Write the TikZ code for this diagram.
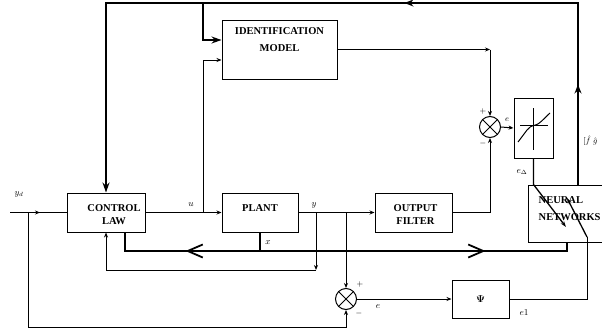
\documentclass[tikz,border=0pt]{standalone}
\usepackage{amsmath}
\usepackage{fontspec}
\setmainfont{Liberation Serif}
\usetikzlibrary{arrows.meta, positioning, calc, decorations.markings}

\begin{document}
\begin{tikzpicture}[x=1pt, y=-1pt,
		line/.style={line width=1pt},
		sig/.style={line, -{Stealth[length=5pt, width=4pt]}},
		bigSig/.style={line width=1.3pt, -{Stealth[length=10pt, width=7pt]}},
		bus/.style={line width=2.4pt},
		adjArrow/.style={line width=1.3pt, -{Stealth[length=6pt, width=4pt]}},
		midArrow/.style={postaction={decorate, decoration={markings, mark=at position #1 with {\arrow{Stealth[length=5pt, width=4pt]}}}}},
		bigMidArrow/.style={postaction={decorate, decoration={markings, mark=at position #1 with {\arrow{Stealth[length=9pt, width=7pt]}}}}},
		busArrow/.style={postaction={decorate, decoration={markings, mark=at position #1 with {\arrow{Straight Barb[length=15pt, width=13pt, line width=1.8pt]}}}}},
		busArrowBack/.style={postaction={decorate, decoration={markings, mark=at position #1 with {\arrowreversed{Straight Barb[length=15pt, width=13pt, line width=1.8pt]}}}}},
		block/.style={draw, line width=1pt, inner sep=0pt},
		blockText/.style={font=\fontsize{10.5}{13}\selectfont\bfseries, align=center, anchor=north, inner sep=0pt},
		sumNode/.style={draw, line width=1pt, circle, minimum size=21pt, inner sep=0pt,
			path picture={\draw[line width=1pt] (path picture bounding box.north west) -- (path picture bounding box.south east)
				(path picture bounding box.north east) -- (path picture bounding box.south west);}},
		lbl/.style={font=\small, inner sep=1pt},
		sign/.style={font=\footnotesize, inner sep=0pt}]

		\useasboundingbox (0,0) rectangle (602,332);
		\clip (0,0) rectangle (602,332);

		% blocks
		\node[block, minimum width=115pt, minimum height=59pt] (idModel) at (279.5,49.5) {};
		\node[blockText, font=\fontsize{10.5}{17}\selectfont\bfseries] (idText) at ($(idModel.north)+(0,8)$) {IDENTIFICATION\\MODEL};
		\node[block, minimum width=78pt, minimum height=39pt] (ctrlLaw) at (106,212.5) {};
		\node[blockText] (ctrlText) at ($(ctrlLaw.north)+(8,12)$) {CONTROL\\LAW};
		\node[block, minimum width=76pt, minimum height=39pt] (plant) at (260,212.5) {};
		\node[blockText] (plantText) at ($(plant.north)+(0,12)$) {PLANT};
		\node[block, minimum width=77pt, minimum height=39pt] (outFilter) at (413.5,212.5) {};
		\node[blockText] (filterText) at ($(outFilter.north)+(2,12)$) {OUTPUT\\FILTER};
		\node[block, minimum width=57pt, minimum height=38pt] (psi) at (480.5,299) {$\boldsymbol{\Psi}$};
		\node[block, minimum width=39pt, minimum height=60pt] (sat) at (533.5,128) {};
		\node[block, minimum width=90pt, minimum height=57pt] (nn) at (573,213.5) {};
		\node[blockText, anchor=north west, align=left, font=\fontsize{10.5}{17}\selectfont\bfseries] (nnText) at ($(nn.north west)+(11,12)$) {NEURAL\\NETWORKS};
		\node[sumNode] (sum1) at (490,127) {};
		\node[sumNode] (sum2) at (346,299) {};

		% saturation symbol
		\begin{scope}[shift={(sat.center)}]
			\draw[line] (0,-20) -- (0,22);
			\draw[line] (-13.5,-3) -- (14.5,-3);
			\draw[line] (-15.5,14) -- (-6.5,2) .. controls (-4.5,-1) and (-2,-2) .. (2,-3) .. controls (6,-4) and (9,-8) .. (16.5,-15);
		\end{scope}

		% junctions
		\coordinate (yIn) at (10,212.5);
		\coordinate (ydSplit) at (28,212.5);
		\coordinate (fbLow) at (346,327);
		\coordinate (uSplit) at (203,212.5);
		\coordinate (yTap) at (316,212.5);
		\coordinate (yLow) at (316,270);
		\coordinate (eTap) at (346,212.5);
		\coordinate (idCorner) at (sum1 |- idModel.east);
		\coordinate (topRight) at (578,3);
		\coordinate (topLeft) at (106,3);
		\coordinate (topSplit) at (203,3);
		\coordinate (nnTap) at (topRight |- nn.north);
		\coordinate (busStart) at ([xshift=19pt]ctrlLaw.south);
		\coordinate (busRight) at (567,251);
		\coordinate (nnBus) at (busRight |- nn.south);
		\coordinate (psiTurn) at (587,237);
		\coordinate (nnAdj2) at (567,198);
		\coordinate (nnAdj1) at (566,227);
		\coordinate (satDrop) at (sat.south |- nn.north);

		% signals
		\draw[line, midArrow=30pt] (yIn) -- (ctrlLaw.west);
		\draw[sig] (ydSplit) |- (fbLow) -- (sum2.south);
		\draw[sig] (ctrlLaw.east) -- (plant.west);
		\draw[sig] (uSplit) |- ([yshift=-10.5pt]idModel.west);
		\draw[bigSig, bigMidArrow=100pt, bigMidArrow=355pt] (nnTap) -- (topRight) -- (topLeft) -- (ctrlLaw.north);
		\draw[bigSig] (topSplit) |- ([yshift=9.5pt]idModel.west);
		\draw[sig] (idModel.east) -- (idCorner);
		\draw[sig] (idCorner) -- (sum1.north);
		\draw[sig] (sum1.east) -- (sat.west);
		\draw[sig] (plant.east) -- (outFilter.west);
		\draw[sig] (yTap) -- (yLow);
		\draw[sig] (yLow) -| (ctrlLaw.south);
		\draw[sig] (eTap) -- (sum2.north);
		\draw[sig] (outFilter.east) -| (sum1.south);
		\draw[sig] (sum2.east) -- (psi.west);
		\draw[line] (psi.east) -| (psiTurn);
		\draw[adjArrow] (psiTurn) -- (nnAdj2);
		\draw[adjArrow] (sat.south) -- (satDrop) -- (nnAdj1);
		\draw[bus, busArrowBack=79pt, busArrow=379pt] (busStart) |- (busRight) -- (nnBus);
		\draw[line width=1.3pt] (plant.south) -- (plant.south |- busRight);

		% labels
		\node[lbl] (ydLabel) at (19,194) {$y_d$};
		\node[lbl] (uLabel) at (191,205) {$u$};
		\node[lbl] (yLabel) at (314,205) {$y$};
		\node[lbl] (xLabel) at (268,243) {$x$};
		\node[lbl, font=\footnotesize] (eLabel) at (507,120) {$e$};
		\node[lbl] (e2Label) at (378,307) {$e$};
		\node[lbl] (e1Label) at (524,313) {$e1$};
		\node[lbl] (eDeltaLabel) at (522,172) {$e_\Delta$};
		\node[lbl, font=\footnotesize, inner sep=0pt] (fLabel) at (587,141) {$[\hat{f}$};
		\node[lbl, font=\footnotesize, inner sep=0pt, right=2pt of fLabel] (gLabel) {$\hat{g}$};
		\node[sign] (plus1) at (483,111) {$+$};
		\node[sign] (minus1) at (483,143) {$-$};
		\node[sign] (plus2) at (360,284) {$+$};
		\node[sign] (minus2) at (359,313) {$-$};
	\end{tikzpicture}
\end{document}
